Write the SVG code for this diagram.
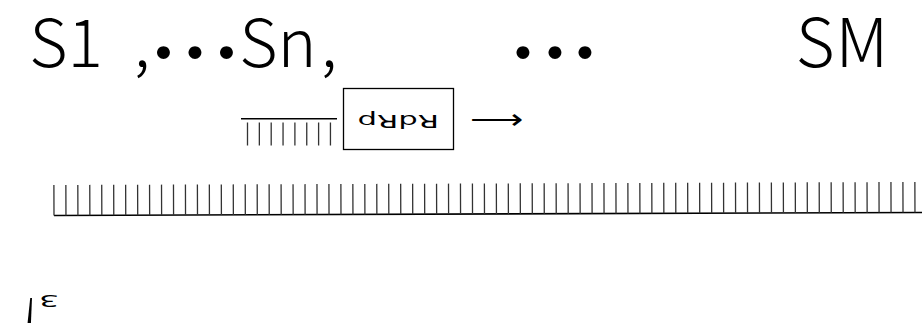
<svg xmlns="http://www.w3.org/2000/svg" width="922" height="323" viewBox="0 0 922 323">
  <style>
    .title { font-family: "Noto Sans CJK JP", "Noto Sans", sans-serif; font-size: 66px; font-weight: 300; fill: #000; }
    .dot { font-weight: 700; }
    .label { font-family: "DejaVu Sans", sans-serif; fill: #000; }
    .backbone { stroke: #000; stroke-width: 1.6; fill: none; }
    .base { stroke: #333; stroke-width: 1.3; fill: none; }
    .box { stroke: #000; stroke-width: 1.3; fill: #fff; }
  </style>

  <!-- segment labels -->
  <g id="segments">
    <text class="title" y="66.5" text-anchor="middle"><tspan x="66">S1</tspan><tspan x="142">,</tspan><tspan class="dot" x="163.5" y="78">･</tspan><tspan class="dot" x="195" y="78">･</tspan><tspan class="dot" x="226.5" y="78">･</tspan><tspan x="278" y="66.5">Sn</tspan><tspan x="329">,</tspan><tspan class="dot" x="523" y="78">･</tspan><tspan class="dot" x="555" y="78">･</tspan><tspan class="dot" x="585" y="78">･</tspan><tspan x="842.5" y="66.5" font-size="67" letter-spacing="1">SM</tspan></text>
  </g>

  <!-- template strand -->
  <g id="template" transform="rotate(-0.2 54 215.5)">
    <line class="backbone" x1="54" y1="215.5" x2="922" y2="215.5"/>
    <path class="base" d="M54 185V215.5M65.96 185V215.5M77.92 185V215.5M89.87 185V215.5M101.83 185V215.5M113.79 185V215.5M125.75 185V215.5M137.71 185V215.5M149.66 185V215.5M161.62 185V215.5M173.58 185V215.5M185.54 185V215.5M197.5 185V215.5M209.45 185V215.5M221.41 185V215.5M233.37 185V215.5M245.33 185V215.5M257.29 185V215.5M269.24 185V215.5M281.2 185V215.5M293.16 185V215.5M305.12 185V215.5M317.08 185V215.5M329.03 185V215.5M340.99 185V215.5M352.95 185V215.5M364.91 185V215.5M376.87 185V215.5M388.82 185V215.5M400.78 185V215.5M412.74 185V215.5M424.7 185V215.5M436.66 185V215.5M448.61 185V215.5M460.57 185V215.5M472.53 185V215.5M484.49 185V215.5M496.45 185V215.5M508.4 185V215.5M520.36 185V215.5M532.32 185V215.5M544.28 185V215.5M556.24 185V215.5M568.19 185V215.5M580.15 185V215.5M592.11 185V215.5M604.07 185V215.5M616.03 185V215.5M627.98 185V215.5M639.94 185V215.5M651.9 185V215.5M663.86 185V215.5M675.82 185V215.5M687.77 185V215.5M699.73 185V215.5M711.69 185V215.5M723.65 185V215.5M735.61 185V215.5M747.56 185V215.5M759.52 185V215.5M771.48 185V215.5M783.44 185V215.5M795.4 185V215.5M807.35 185V215.5M819.31 185V215.5M831.27 185V215.5M843.23 185V215.5M855.19 185V215.5M867.14 185V215.5M879.1 185V215.5M891.06 185V215.5M903.02 185V215.5M914.98 185V215.5"/>
  </g>

  <!-- nascent strand behind the polymerase -->
  <g id="nascent">
    <line class="backbone" x1="241" y1="118.7" x2="337" y2="118.7" stroke-width="1.4"/>
    <path class="base" d="M247.5 122.5V145.5M259.35 122.5V145.5M271.2 122.5V145.5M283.05 122.5V145.5M294.9 122.5V145.5M306.75 122.5V145.5M318.6 122.5V145.5M330.45 122.5V145.5"/>
  </g>

  <!-- polymerase -->
  <g id="rdrp">
    <rect class="box" x="343.5" y="88.5" width="110" height="61"/>
    <text class="label" font-size="18" text-anchor="middle" transform="translate(398.3 120) scale(-1.7 -1)" y="4.7">RdRp</text>
  </g>

  <!-- direction of synthesis -->
  <g id="connectors">
    <text class="label" font-size="28" font-weight="200" transform="translate(470 129) scale(1.33 1)">⟶</text>
  </g>

  <!-- strand end -->
  <g id="end3">
    <text class="label" font-size="16.5" transform="translate(59 295) scale(-1.9 -1)">3</text>
    <text class="label" font-size="80" font-weight="200" text-anchor="middle" transform="translate(30 253) scale(-0.45 -1.3)">′</text>
  </g>
</svg>
